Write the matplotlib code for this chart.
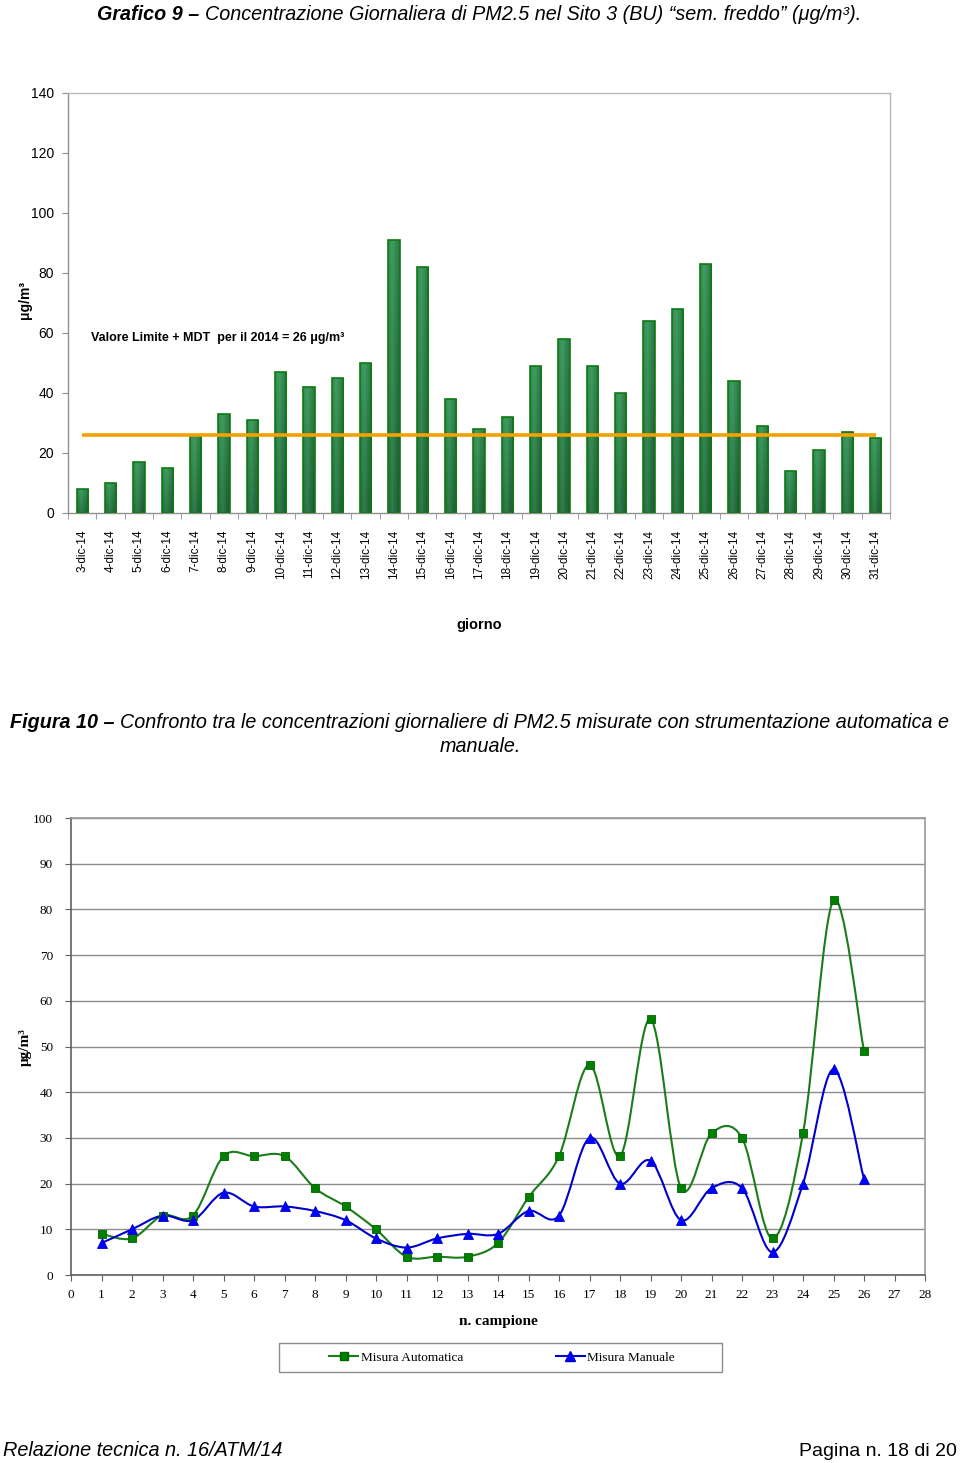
import numpy as np
import matplotlib
matplotlib.use("Agg")
import matplotlib.pyplot as plt
from matplotlib.path import Path
from matplotlib.patches import PathPatch, Rectangle
from matplotlib.lines import Line2D

# ---------------- data ----------------
days = [f"{d}-dic-14" for d in range(3, 32)]
pm25 = [8, 10, 17, 15, 26, 33, 31, 47, 42, 45, 50, 91, 82, 38, 28, 32,
        49, 58, 49, 40, 64, 68, 83, 44, 29, 14, 21, 27, 25]
limit_value = 26

campione = list(range(1, 27))
automatica = [9, 8, 13, 13, 26, 26, 26, 19, 15, 10, 4, 4, 4, 7, 17, 26,
              46, 26, 56, 19, 31, 30, 8, 31, 82, 49]
manuale = [7, 10, 13, 12, 18, 15, 15, 14, 12, 8, 6, 8, 9, 9, 14, 13,
           30, 20, 25, 12, 19, 19, 5, 20, 45, 21]

W, H = 960, 1463
fig = plt.figure(figsize=(W / 100, H / 100), dpi=100)
renderer = fig.canvas.get_renderer()

SANS = ["Liberation Sans", "DejaVu Sans"]
SERIF = ["Liberation Serif", "DejaVu Serif"]


def chain(x0, y, parts, size, **kw):
    """Place consecutive text pieces starting at pixel x0."""
    xpix = x0
    for txt, weight in parts:
        t = fig.text(xpix / W, 1 - y / H, txt, fontsize=size, fontstyle="italic",
                     fontweight=weight, family=SANS, ha="left", va="center", **kw)
        bb = t.get_window_extent(renderer)
        xpix += bb.width
    return xpix


# ---------------- titles ----------------
chain(97, 14, [("Grafico 9 – ", "bold"),
               ("Concentrazione Giornaliera di PM2.5 nel Sito 3 (BU) “sem. freddo” (μg/m³).",
                "normal")], 14.25)
chain(10, 723, [("Figura 10 – ", "bold"),
                ("Confronto tra le concentrazioni giornaliere di PM2.5 misurate con strumentazione automatica e",
                 "normal")], 14.2)
fig.text(0.5, 1 - 746 / H, "manuale.", fontsize=14.2, fontstyle="italic",
         family=SANS, ha="center", va="center")

# ---------------- bar chart ----------------
ax1 = fig.add_axes([68 / W, 1 - 513 / H, (890 - 68) / W, (513 - 93) / H])
x = np.arange(len(days))
bars = ax1.bar(x, pm25, width=0.4, color="#1f7d3a", edgecolor="#0d7a12",
               linewidth=1.2, zorder=2)

gx = np.linspace(0, 1, 32)
gy = np.linspace(0, 1, 64)
GX, GY = np.meshgrid(gx, gy)
light = np.array([0.25, 0.62, 0.38])
dark = np.array([0.10, 0.33, 0.18])
t = np.clip(0.55 * np.abs(GX - 0.35) / 0.65 + 0.45 * GY, 0, 1)
img = light[None, None, :] * (1 - t[..., None]) + dark[None, None, :] * t[..., None]
for b in bars:
    bx, bw, bh = b.get_x(), b.get_width(), b.get_height()
    im = ax1.imshow(img, extent=(bx, bx + bw, 0, bh), origin="upper",
                    aspect="auto", zorder=2.5, interpolation="bilinear")
    im.set_clip_path(b)
    b.set_facecolor("none")
    b.set_zorder(3)

ax1.plot([x[0], x[-1]], [limit_value, limit_value], color="#f5a100", lw=2.6,
         zorder=4, solid_capstyle="butt")
ax1.text(0.3, 58.5, "Valore Limite + MDT  per il 2014 = 26 μg/m³", fontsize=9,
         fontweight="bold", family=SANS, ha="left", va="center")

ax1.set_xlim(-0.5, len(days) - 0.5)
ax1.set_ylim(0, 140)
ax1.set_yticks(np.arange(0, 141, 20))
ax1.set_xticks(x)
ax1.set_xticklabels(days, rotation=90, fontsize=8.5, family=SANS, va="top")
ax1.set_xticks(np.arange(-0.5, len(days), 1), minor=True)
ax1.tick_params(axis="x", which="major", length=0, pad=12)
ax1.tick_params(axis="x", which="minor", length=4, color="#909090", direction="out")
ax1.tick_params(axis="y", length=4, color="#909090", labelsize=10, pad=6)
for lab in ax1.get_yticklabels():
    lab.set_family(SANS)
for s in ax1.spines.values():
    s.set_color("#b8b8b8")
    s.set_linewidth(1.0)
ax1.spines["left"].set_color("#909090")
ax1.spines["bottom"].set_color("#909090")
fig.text(25 / W, 1 - 300 / H, "μg/m³", rotation=90, fontsize=10, fontweight="bold",
         family=SANS, ha="center", va="center")
fig.text(479 / W, 1 - 625 / H, "giorno", fontsize=10.5, fontweight="bold",
         family=SANS, ha="center", va="center")

# ---------------- line chart ----------------
ax2 = fig.add_axes([71 / W, 1 - 1275 / H, (925 - 71) / W, (1275 - 818) / H])


def smooth_path(xs, ys):
    pts = np.column_stack([xs, ys]).astype(float)
    n = len(pts)
    verts = [pts[0]]
    codes = [Path.MOVETO]
    for i in range(n - 1):
        p0 = pts[i - 1] if i > 0 else pts[i]
        p1 = pts[i]
        p2 = pts[i + 1]
        p3 = pts[i + 2] if i + 2 < n else pts[i + 1]
        c1 = p1 + (p2 - p0) / 6.0
        c2 = p2 - (p3 - p1) / 6.0
        verts += [c1, c2, p2]
        codes += [Path.CURVE4] * 3
    return Path(verts, codes)


green = "#1a7d1a"
blue = "#0000cc"
ax2.add_patch(PathPatch(smooth_path(campione, automatica), facecolor="none",
                        edgecolor=green, lw=1.5, zorder=3))
ax2.add_patch(PathPatch(smooth_path(campione, manuale), facecolor="none",
                        edgecolor=blue, lw=1.5, zorder=3))
ax2.plot(campione, automatica, ls="none", marker="s", ms=6, color="#008000",
         mec="#006400", mew=0.6, zorder=4)
ax2.plot(campione, manuale, ls="none", marker="^", ms=6.5, color="#0000ff",
         mec="#0000cc", mew=0.6, zorder=4)

ax2.set_xlim(0, 28)
ax2.set_ylim(0, 100)
ax2.set_xticks(np.arange(0, 29, 1))
ax2.set_yticks(np.arange(0, 101, 10))
ax2.grid(axis="y", color="#8c8c8c", lw=1.0)
ax2.set_axisbelow(True)
ax2.tick_params(axis="both", labelsize=9.5, length=4, color="#606060",
                direction="out")
ax2.tick_params(axis="x", pad=6)
ax2.tick_params(axis="y", pad=9)
for lab in ax2.get_xticklabels() + ax2.get_yticklabels():
    lab.set_family(SERIF)
for s in ax2.spines.values():
    s.set_color("#9a9a9a")
    s.set_linewidth(1.2)
ax2.spines["left"].set_color("#606060")
ax2.spines["bottom"].set_color("#606060")
fig.text(25 / W, 1 - 1047 / H, "μg/m³", rotation=90, fontsize=11, fontweight="bold",
         family=SERIF, ha="center", va="center")
fig.text(498 / W, 1 - 1322 / H, "n. campione", fontsize=11, fontweight="bold",
         family=SERIF, ha="center", va="center")

# legend frame
fig.patches.append(Rectangle((279 / W, 1 - 1372 / H), 443 / W, 29 / H,
                             transform=fig.transFigure, facecolor="white",
                             edgecolor="#8c8c8c", lw=1.0, zorder=1))
handles = [Line2D([], [], color=green, lw=1.5, marker="s", ms=6, mfc="#008000",
                  mec="#006400"),
           Line2D([], [], color=blue, lw=1.5, marker="^", ms=6.5, mfc="#0000ff",
                  mec="#0000cc")]
leg = fig.legend(handles, ["Misura Automatica", "Misura Manuale"],
                 loc="center", ncol=2,
                 bbox_to_anchor=(502 / W, 1 - 1357.5 / H),
                 frameon=False, prop={"family": SERIF, "size": 9.5},
                 handlelength=2.2, handletextpad=0.2, columnspacing=7.0,
                 borderpad=0.2)

# ---------------- footer ----------------
fig.text(3 / W, 1 - 1451 / H, "Relazione tecnica n. 16/ATM/14", fontsize=14.3,
         fontstyle="italic", family=SANS, ha="left", va="center")
fig.text(957 / W, 1 - 1451 / H, "Pagina n. 18 di 20", fontsize=14,
         family=SANS, ha="right", va="center")

fig.savefig("out.png", dpi=100)
